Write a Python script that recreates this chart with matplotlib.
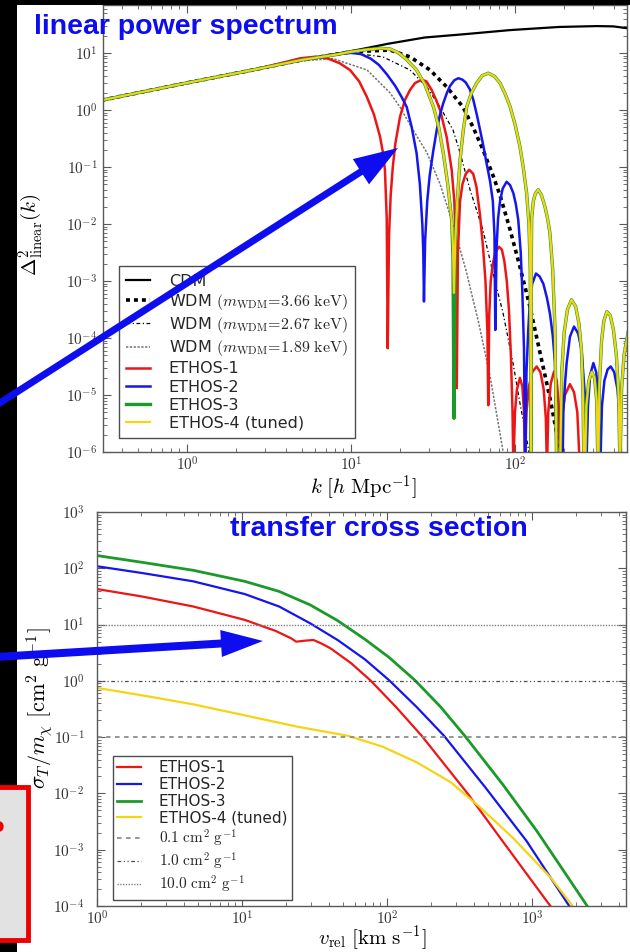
import numpy as np
import matplotlib
matplotlib.use('Agg')
import matplotlib.pyplot as plt
from matplotlib.ticker import FuncFormatter, LogLocator, NullFormatter
from matplotlib.patches import Rectangle, FancyArrow

plt.rcParams['mathtext.fontset'] = 'cm'
plt.rcParams['font.family'] = ['DejaVu Sans']

# ---------------- top panel data (log10 k [h/Mpc], log10 Delta^2) ----------------
cdm_logk = [-0.52, 0.0, 0.4, 0.7, 1.0, 1.226, 1.45, 1.7, 1.97, 2.27, 2.5, 2.6, 2.69]
cdm_logd = [0.17, 0.474, 0.70, 0.877, 1.03, 1.16, 1.27, 1.33, 1.40, 1.455, 1.47, 1.465, 1.43]

wdm366_logk = [-0.52, 0.0, 0.4, 0.7, 1.0, 1.238, 1.36, 1.482, 1.585, 1.683, 1.744, 1.805,
               1.866, 1.909, 1.97, 2.03, 2.091, 2.152, 2.213, 2.27, 2.29]
wdm366_logd = [0.17, 0.474, 0.70, 0.877, 1.02, 1.05, 0.93, 0.70, 0.40, 0.05, -0.3, -0.7,
               -1.15, -1.5, -2.1, -2.75, -3.45, -4.25, -5.05, -5.9, -6.2]

wdm267_logk = [-0.52, 0.0, 0.4, 0.7, 1.0, 1.195, 1.36, 1.463, 1.543, 1.622, 1.665, 1.726,
               1.805, 1.866, 1.927, 1.988, 2.03, 2.073, 2.09]
wdm267_logd = [0.17, 0.474, 0.70, 0.877, 1.00, 0.93, 0.70, 0.40, 0.05, -0.35, -0.75, -1.40,
               -2.11, -2.86, -3.56, -4.44, -5.14, -5.79, -6.1]

wdm189_logk = [-0.52, 0.0, 0.4, 0.7, 0.89, 1.098, 1.238, 1.299, 1.378, 1.463, 1.543, 1.616,
               1.70, 1.78, 1.85, 1.91, 1.94]
wdm189_logd = [0.17, 0.474, 0.70, 0.86, 0.90, 0.70, 0.30, 0.05, -0.35, -0.75, -1.3, -1.95,
               -2.8, -3.75, -4.7, -5.7, -6.2]

ethos1_logk = [-0.52, 0.0, 0.4, 0.6, 0.69, 0.79, 0.86, 0.93, 0.994, 1.05, 1.096, 1.14,
               1.177, 1.195, 1.207, 1.218, 1.224,
               1.232, 1.242, 1.255, 1.27, 1.299, 1.33, 1.36, 1.39, 1.431, 1.46, 1.492, 1.52,
               1.545, 1.583, 1.614, 1.63, 1.64, 1.645,
               1.652, 1.665, 1.68, 1.70, 1.721, 1.745, 1.765, 1.787, 1.805, 1.82, 1.832, 1.837,
               1.843, 1.852, 1.865, 1.88, 1.902, 1.92, 1.935, 1.95, 1.963, 1.975, 1.985, 1.99,
               2.0, 2.012, 2.03, 2.045, 2.055, 2.061,
               2.07, 2.085, 2.105, 2.132, 2.155, 2.175, 2.188, 2.195,
               2.203, 2.218, 2.238, 2.255, 2.267, 2.274,
               2.285, 2.305, 2.335, 2.36, 2.38, 2.396]
ethos1_logd = [0.17, 0.474, 0.70, 0.84, 0.905, 0.935, 0.90, 0.82, 0.70, 0.50, 0.234, -0.08,
               -0.468, -0.75, -1.05, -1.9, -4.18,
               -2.2, -1.5, -1.0, -0.6, -0.12, 0.18, 0.35, 0.47, 0.53, 0.50, 0.35, 0.17,
               -0.02, -0.47, -1.05, -1.6, -2.4, -4.88,
               -2.5, -1.6, -1.3, -1.12, -1.05, -1.12, -1.35, -1.85, -2.4, -3.0, -3.9, -5.18,
               -3.6, -3.0, -2.7, -2.5, -2.40, -2.45, -2.65, -3.0, -3.5, -4.3, -5.3, -6.3,
               -5.3, -4.9, -4.70, -4.85, -5.3, -6.3,
               -5.3, -4.85, -4.6, -4.50, -4.6, -4.9, -5.4, -6.3,
               -5.3, -4.8, -4.59, -4.75, -5.2, -6.3,
               -5.4, -5.0, -4.81, -4.95, -5.3, -6.3]

ethos2_logk = [-0.52, 0.0, 0.4, 0.7, 0.9, 1.0, 1.06, 1.12, 1.17, 1.22, 1.27, 1.31, 1.34,
               1.37, 1.40, 1.42, 1.435, 1.441, 1.445,
               1.452, 1.465, 1.48, 1.50, 1.523, 1.543, 1.563, 1.585, 1.604, 1.63, 1.655,
               1.68, 1.70, 1.725, 1.746, 1.767, 1.787, 1.807, 1.827, 1.848, 1.865, 1.875, 1.88,
               1.888, 1.897, 1.909, 1.925, 1.949, 1.97, 1.99, 2.005, 2.02, 2.035, 2.045,
               2.055, 2.062,
               2.07, 2.081, 2.091, 2.105, 2.128, 2.15, 2.173, 2.195, 2.213, 2.23, 2.244, 2.254,
               2.29, 2.295, 2.305, 2.315, 2.335, 2.36, 2.385, 2.406, 2.427, 2.435,
               2.445, 2.458, 2.478, 2.495, 2.508, 2.516,
               2.52, 2.53, 2.545, 2.565, 2.584, 2.605, 2.625, 2.64, 2.65]
ethos2_logd = [0.17, 0.474, 0.70, 0.877, 0.97, 1.0, 0.98, 0.90, 0.79, 0.62, 0.42, 0.22, 0.05,
               -0.30, -0.76, -1.3, -2.0, -2.5, -3.36,
               -2.3, -1.6, -1.15, -0.75, -0.35, -0.08, 0.12, 0.30, 0.42, 0.52, 0.556,
               0.53, 0.48, 0.36, 0.175, -0.08, -0.35, -0.63, -0.94, -1.25, -1.6, -2.2, -3.86,
               -2.4, -1.9, -1.6, -1.38, -1.26, -1.32, -1.46, -1.65, -1.93, -2.5, -3.2,
               -4.2, -6.3,
               -4.6, -3.86, -3.35, -3.05, -2.87, -2.92, -3.05, -3.3, -3.57, -3.95, -4.44, -6.3,
               -6.3, -5.3, -4.8, -4.44, -3.98, -3.80, -3.92, -4.21, -5.03, -6.3,
               -5.2, -4.65, -4.44, -4.6, -5.0, -6.3,
               -6.3, -5.2, -4.75, -4.55, -4.50, -4.6, -4.9, -5.5, -6.3]

ethos34_logk = [-0.52, 0.0, 0.4, 0.7, 0.9, 1.0, 1.1, 1.18, 1.238, 1.29, 1.34, 1.40, 1.45,
                1.502, 1.535, 1.563, 1.59, 1.614, 1.622, 1.628,
                1.636, 1.648, 1.665, 1.685, 1.706, 1.735, 1.766, 1.80, 1.837, 1.875, 1.909,
                1.94, 1.97, 2.0, 2.03, 2.05, 2.071, 2.085, 2.093, 2.098,
                2.10, 2.102, 2.112, 2.125, 2.142, 2.162, 2.183, 2.20, 2.213, 2.23, 2.244, 2.254,
                2.275, 2.285, 2.30, 2.32, 2.345, 2.37, 2.39, 2.405, 2.415, 2.42,
                2.427, 2.435, 2.45, 2.468, 2.485, 2.498, 2.506,
                2.508, 2.515, 2.528, 2.542, 2.56, 2.58, 2.60, 2.618, 2.632, 2.64,
                2.65, 2.665, 2.69]
ethos3_logd = [0.17, 0.474, 0.70, 0.877, 0.965, 1.02, 1.06, 1.08, 1.07, 1.0, 0.88, 0.70, 0.45,
               0.06, -0.3, -0.76, -1.3, -1.93, -2.6, -5.41,
               -2.4, -1.6, -0.88, -0.35, 0.06, 0.30, 0.47, 0.60, 0.644, 0.59, 0.47,
               0.28, 0.06, -0.25, -0.64, -1.0, -1.46, -2.0, -2.8, -6.3,
               -2.5, -1.9, -1.6, -1.46, -1.40, -1.5, -1.70, -1.93, -2.16, -2.8, -3.86, -6.3,
               -6.3, -4.6, -3.9, -3.5, -3.33, -3.45, -3.75, -4.2, -5.0, -6.3,
               -6.3, -5.2, -4.75, -4.6, -4.7, -5.1, -6.3,
               -6.3, -4.8, -4.05, -3.7, -3.54, -3.6, -3.85, -4.3, -5.0, -6.3,
               -4.9, -4.3, -3.9]
ethos4_logd = [0.17, 0.474, 0.70, 0.877, 0.965, 1.02, 1.06, 1.08, 1.07, 1.0, 0.88, 0.70, 0.45,
               0.06, -0.3, -0.76, -1.3, -1.93, -2.4, -3.21,
               -2.3, -1.6, -0.88, -0.35, 0.06, 0.30, 0.47, 0.60, 0.644, 0.59, 0.47,
               0.28, 0.06, -0.25, -0.64, -1.0, -1.46, -2.0, -2.8, -6.3,
               -2.5, -1.9, -1.6, -1.46, -1.40, -1.5, -1.70, -1.93, -2.16, -2.8, -3.86, -6.3,
               -6.3, -4.6, -3.9, -3.5, -3.33, -3.45, -3.75, -4.2, -5.0, -6.3,
               -6.3, -5.2, -4.75, -4.6, -4.7, -5.1, -6.3,
               -6.3, -4.8, -4.05, -3.7, -3.54, -3.6, -3.85, -4.3, -5.0, -6.3,
               -4.9, -4.3, -3.9]

# ---------------- bottom panel data (log10 v_rel [km/s], log10 sigma/m [cm^2/g]) -------
e1_logv = [0.0, 0.308, 0.664, 1.019, 1.232, 1.339, 1.374, 1.434, 1.493, 1.545, 1.611, 1.754,
           1.884, 2.062, 2.239, 2.559, 2.796, 3.128]
e1_logs = [1.631, 1.50, 1.321, 1.083, 0.887, 0.756, 0.696, 0.714, 0.726, 0.667, 0.577, 0.310,
           0.012, -0.464, -0.976, -2.012, -2.845, -4.006]
e2_logv = [0.0, 0.308, 0.664, 1.019, 1.256, 1.469, 1.659, 1.848, 2.014, 2.204, 2.393, 2.678,
           2.962, 3.258]
e2_logs = [2.036, 1.917, 1.768, 1.542, 1.321, 1.024, 0.726, 0.381, 0.012, -0.464, -0.976,
           -1.893, -2.845, -4.006]
e3_logv = [0.0, 0.308, 0.664, 1.019, 1.256, 1.469, 1.659, 1.848, 2.014, 2.192, 2.370, 2.536,
           2.796, 3.033, 3.382]
e3_logs = [2.226, 2.107, 1.964, 1.768, 1.589, 1.351, 1.071, 0.738, 0.417, 0.012, -0.464,
           -0.976, -1.833, -2.667, -4.006]
e4_logv = [0.0, 0.308, 0.664, 1.019, 1.374, 1.730, 1.967, 2.204, 2.441, 2.630, 2.867, 3.128,
           3.282]
e4_logs = [-0.125, -0.256, -0.417, -0.613, -0.810, -0.976, -1.167, -1.446, -1.804, -2.220,
           -2.786, -3.494, -4.006]
ref_levels = [0.1, 1.0, 10.0]

RED, BLUE, GREEN, YELLOW = '#ee1515', '#1515ee', '#1b9a2a', '#f5d414'
TBLUE = '#0d0df0'

W, H = 630, 952
fig = plt.figure(figsize=(6.3, 9.52), dpi=100)
fig.patch.set_facecolor('white')


def rect(l, r, t, b):
    return [l / W, 1 - b / H, (r - l) / W, (b - t) / H]


def p(a):
    return 10 ** np.asarray(a, dtype=float)


fmt = FuncFormatter(lambda v, pos: r'$10^{%d}$' % int(round(np.log10(v))))


def style(ax, ypad, xpad):
    ax.set_xscale('log')
    ax.set_yscale('log')
    for a in (ax.xaxis, ax.yaxis):
        a.set_major_locator(LogLocator(base=10, numticks=20))
        a.set_minor_locator(LogLocator(base=10, subs=np.arange(2, 10), numticks=20))
        a.set_major_formatter(fmt)
        a.set_minor_formatter(NullFormatter())
    ax.tick_params(which='both', direction='in', top=True, right=True, color='0.35',
                   labelcolor='0.2', labelsize=11)
    ax.tick_params(which='major', length=6, width=0.8)
    ax.tick_params(which='minor', length=3, width=0.6)
    ax.tick_params(axis='y', pad=ypad)
    ax.tick_params(axis='x', pad=xpad)
    for s in ax.spines.values():
        s.set_color('0.35')
        s.set_linewidth(1.0)


def place_labels(ax, l, r, t, b, xl, yl):
    ax.xaxis.set_label_coords((xl[0] - l) / (r - l), (b - xl[1]) / (b - t))
    ax.yaxis.set_label_coords((yl[0] - l) / (r - l), (b - yl[1]) / (b - t))
    ax.xaxis.label.set_va('center')
    ax.yaxis.label.set_va('center')


# ---------------- top panel ----------------
T = (103, 627, 5, 452)
ax1 = fig.add_axes(rect(*T))
style(ax1, 4, 2.5)
ax1.plot(p(cdm_logk), p(cdm_logd), color='black', lw=1.6, label='CDM')
ax1.plot(p(wdm366_logk), p(wdm366_logd), color='black', lw=2.6, ls=(0, (1.1, 1.1)),
         label=r'WDM $(m_{\rm WDM}\!=\!3.66\ {\rm keV})$')
ax1.plot(p(wdm267_logk), p(wdm267_logd), color='black', lw=0.9, ls=(0, (3, 2, 1, 2)),
         label=r'WDM $(m_{\rm WDM}\!=\!2.67\ {\rm keV})$')
ax1.plot(p(wdm189_logk), p(wdm189_logd), color='0.45', lw=1.1, ls=(0, (1.5, 1)),
         label=r'WDM $(m_{\rm WDM}\!=\!1.89\ {\rm keV})$')
ax1.plot(p(ethos1_logk), p(ethos1_logd), color=RED, lw=1.8, label='ETHOS-1')
ax1.plot(p(ethos2_logk), p(ethos2_logd), color=BLUE, lw=1.8, label='ETHOS-2')
ax1.plot(p(ethos34_logk), p(ethos3_logd), color=GREEN, lw=2.4, label='ETHOS-3')
ax1.plot(p(ethos34_logk), p(ethos4_logd), color=YELLOW, lw=1.6, label='ETHOS-4 (tuned)')
ax1.set_xlim(10 ** -0.512, 10 ** 2.683)
ax1.set_ylim(1e-6, 10 ** 1.84)
ax1.set_xlabel(r'$k\ [h\ {\rm Mpc}^{-1}]$', fontsize=15)
ax1.set_ylabel(r'$\Delta^2_{\rm linear}(k)$', fontsize=15)
place_labels(ax1, *T, (363, 488), (31, 235))
leg1 = ax1.legend(loc='lower left', bbox_to_anchor=(0.031, 0.031), borderaxespad=0,
                  fontsize=11.5, fancybox=False, edgecolor='0.3', framealpha=1,
                  handlelength=1.45, handletextpad=1.2, labelspacing=0.2, borderpad=0.45)
leg1.get_frame().set_linewidth(1.0)
for t in leg1.get_texts():
    t.set_color('0.15')

# ---------------- bottom panel ----------------
B = (97, 626, 512, 906)
ax2 = fig.add_axes(rect(*B))
style(ax2, 9, 2.5)
ax2.plot(p(e1_logv), p(e1_logs), color=RED, lw=1.6, label='ETHOS-1')
ax2.plot(p(e2_logv), p(e2_logs), color=BLUE, lw=1.6, label='ETHOS-2')
ax2.plot(p(e3_logv), p(e3_logs), color=GREEN, lw=2.0, label='ETHOS-3')
ax2.plot(p(e4_logv), p(e4_logs), color=YELLOW, lw=1.6, label='ETHOS-4 (tuned)')
ax2.axhline(ref_levels[0], color='0.55', lw=1.3, ls=(0, (2.5, 2.5)),
            label=r'$0.1\ {\rm cm^2\ g^{-1}}$')
ax2.axhline(ref_levels[1], color='0.3', lw=0.9, ls=(0, (3, 2, 1, 2, 1, 2)),
            label=r'$1.0\ {\rm cm^2\ g^{-1}}$')
ax2.axhline(ref_levels[2], color='0.5', lw=1.0, ls=(0, (1, 1)),
            label=r'$10.0\ {\rm cm^2\ g^{-1}}$')
ax2.set_xlim(1, 10 ** 3.648)
ax2.set_ylim(1e-4, 1e3)
ax2.set_xlabel(r'$v_{\rm rel}\ [{\rm km\ s^{-1}}]$', fontsize=15)
ax2.set_ylabel(r'$\sigma_T/m_\chi\ [{\rm cm^2\ g^{-1}}]$', fontsize=16)
place_labels(ax2, *B, (372, 938), (40, 708))
leg2 = ax2.legend(loc='lower left', bbox_to_anchor=(0.03, 0.016), borderaxespad=0,
                  fontsize=11, fancybox=False, edgecolor='0.3', framealpha=1,
                  handlelength=1.55, handletextpad=1.15, labelspacing=0.12, borderpad=0.3)
leg2.get_frame().set_linewidth(1.0)
for t in leg2.get_texts():
    t.set_color('0.15')

# ---------------- overlay: black borders, arrows, titles, red box ----------------
ov = fig.add_axes([0, 0, 1, 1], zorder=10)
ov.set_xlim(0, W)
ov.set_ylim(H, 0)
ov.axis('off')
ov.patch.set_alpha(0)
ov.add_patch(Rectangle((0, 0), W, 5, color='black', lw=0))
ov.add_patch(Rectangle((0, 0), 17, H, color='black', lw=0))
ov.add_patch(Rectangle((-5, 787), 33, 153, facecolor='#e2e2e2', edgecolor='#ee0000', lw=3.5))
ov.text(-3, 826, 'o', color='#ee0000', fontsize=14, fontweight='bold', ha='center',
        va='center', clip_on=True)
ov.add_patch(FancyArrow(-5, 406, 403, -258, width=7, head_width=30, head_length=44,
                        length_includes_head=True, color=TBLUE, lw=0))
ov.add_patch(FancyArrow(-5, 657, 268, -16, width=8, head_width=27, head_length=42,
                        length_includes_head=True, color=TBLUE, lw=0))
ov.text(34, 27, 'linear power spectrum', color=TBLUE, fontsize=20.5, fontweight='bold',
        family='Liberation Sans', ha='left', va='center')
ov.text(230, 529, 'transfer cross section', color=TBLUE, fontsize=20.5, fontweight='bold',
        family='Liberation Sans', ha='left', va='center')

fig.savefig('out.png', dpi=100)
